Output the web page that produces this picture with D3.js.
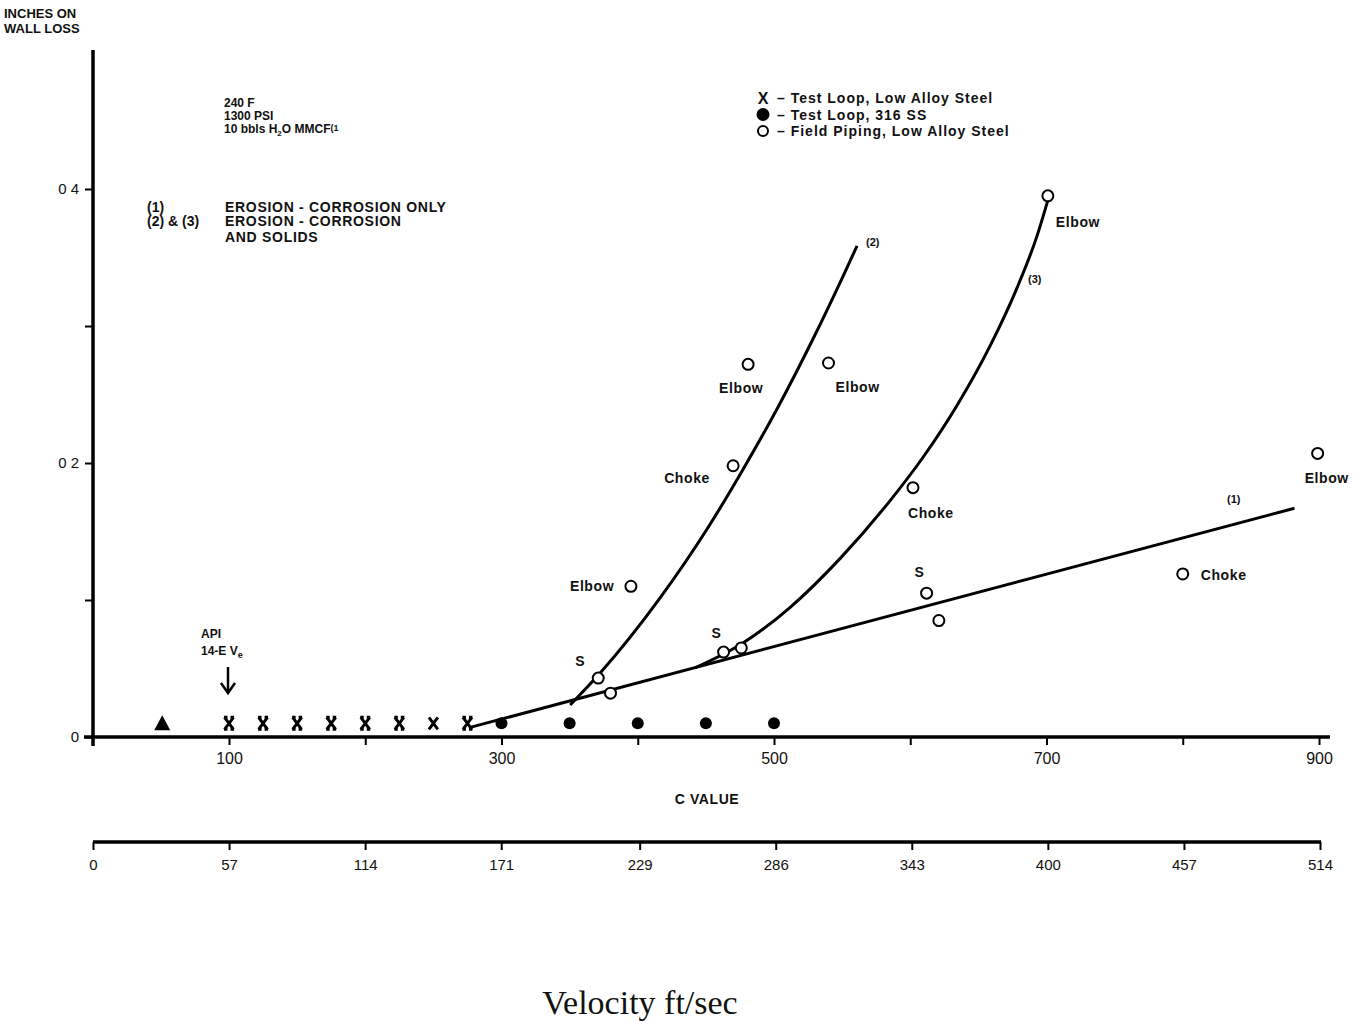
<!DOCTYPE html>
<html>
<head>
<meta charset="utf-8">
<script src="https://cdn.jsdelivr.net/npm/d3@7"></script>
<style>
  body { margin: 0; background: #fff; }
  svg { display: block; font-family: "Liberation Sans", Arial, sans-serif; }
  .lbl { font-weight: bold; fill: #111; }
</style>
</head>
<body>
<div id="chart"></div>
<script>
// --- values ---
// C value axis (top) and velocity axis (bottom)
var cTicks = [100, 200, 300, 400, 500, 600, 700, 800, 900];
var cTickLabels = ["100", "", "300", "", "500", "", "700", "", "900"];
var velTicks = [0, 57, 114, 171, 229, 286, 343, 400, 457, 514];
var lossTicks = [0, 0.1, 0.2, 0.3, 0.4];
var lossTickLabels = ["0", "", "0 2", "", "0 4"];

// X - Test Loop, Low Alloy Steel
var loopC = [100, 125, 150, 175, 200, 225, 250, 275];
var loopLoss = [0.01, 0.01, 0.01, 0.01, 0.01, 0.01, 0.01, 0.01];
// filled dot - Test Loop, 316 SS
var ssC = [300, 350, 400, 450, 500];
var ssLoss = [0.01, 0.01, 0.01, 0.01, 0.01];
// triangle
var triC = [51];
var triLoss = [0.01];
// open circle - Field Piping, Low Alloy Steel
var fieldC = [395, 481, 540, 470, 701, 602, 899, 800, 612, 621, 371, 380, 463, 476];
var fieldLoss = [0.11, 0.272, 0.273, 0.198, 0.395, 0.182, 0.207, 0.119, 0.105, 0.085, 0.043, 0.032, 0.062, 0.065];
var fieldLabel = ["Elbow", "Elbow", "Elbow", "Choke", "Elbow", "Choke", "Elbow", "Choke", "S", "", "S", "", "S", ""];

// curves (1), (2), (3)
var curve1C = [277, 882];
var curve1Loss = [0.007, 0.167];
var curve2C = [350.4, 372.4, 416.4, 450.9, 476.6, 503, 528.6, 552.1, 560.9];
var curve2Loss = [0.0234, 0.0467, 0.1015, 0.1518, 0.1942, 0.2409, 0.2905, 0.3394, 0.3584];
var curve3C = [442, 477.2, 511.9, 548.6, 585.1, 609.4, 634.3, 658.5, 678.3, 693, 701.1];
var curve3Loss = [0.0504, 0.0686, 0.0947, 0.1304, 0.1724, 0.2042, 0.242, 0.2853, 0.3277, 0.3656, 0.3921];

// label offsets (px) for the field notes, same order as fieldLabel
var labelOffsets = [[-61, 5], [-29, 29], [7, 29], [-69, 17], [8, 31], [-5, 30], [-13, 30], [18, 6], [-12, -16], [0, 0], [-23, -12], [0, 0], [-12, -14], [0, 0]];

var W = 1365, H = 1021;

var svg = d3.select('#chart').append('svg')
    .attr('width', W).attr('height', H)
    .style('background', '#fff');

var x = d3.scaleLinear().domain([0, 900]).range([92.75, 1319]);
var y = d3.scaleLinear().domain([0, 0.5]).range([737, 52]);
var xv = d3.scaleLinear().domain([0, 514]).range([93, 1320]);

// y axis title
svg.append('text').attr('class', 'lbl').attr('x', 4).attr('y', 18)
    .style('font-size', '13px').text('INCHES ON');
svg.append('text').attr('class', 'lbl').attr('x', 4).attr('y', 33)
    .style('font-size', '13px').text('WALL LOSS');

// y axis
var yAxis = d3.axisLeft(y).tickValues(lossTicks)
    .tickFormat(function (d, i) { return lossTickLabels[i]; })
    .tickSize(8).tickPadding(6);
var gy = svg.append('g').attr('transform', 'translate(93,0)').call(yAxis);
gy.select('.domain').remove();
gy.selectAll('.tick line').attr('stroke', '#000').attr('stroke-width', 2);
gy.selectAll('.tick text').style('font-size', '15px').attr('fill', '#111');
svg.append('line').attr('x1', 93).attr('x2', 93).attr('y1', 50).attr('y2', 746)
    .attr('stroke', '#000').attr('stroke-width', 3.5);

// top x axis (C value)
var xAxis = d3.axisBottom(x).tickValues(cTicks)
    .tickFormat(function (d, i) { return cTickLabels[i]; })
    .tickSize(8).tickPadding(8);
var gx = svg.append('g').attr('transform', 'translate(0,737)').call(xAxis);
gx.select('.domain').remove();
gx.selectAll('.tick line').attr('stroke', '#000').attr('stroke-width', 2);
gx.selectAll('.tick text').style('font-size', '16px').attr('fill', '#111');
svg.append('line').attr('x1', 84).attr('x2', 1330).attr('y1', 737).attr('y2', 737)
    .attr('stroke', '#000').attr('stroke-width', 3.5);

svg.append('text').attr('class', 'lbl').attr('x', 707).attr('y', 804)
    .attr('text-anchor', 'middle').style('font-size', '14px')
    .style('letter-spacing', '0.6px').text('C VALUE');

// bottom velocity axis
var vAxis = d3.axisBottom(xv).tickValues(velTicks)
    .tickSize(8).tickPadding(9);
var gv = svg.append('g').attr('transform', 'translate(0,842)').call(vAxis);
gv.select('.domain').remove();
gv.selectAll('.tick line').attr('stroke', '#000').attr('stroke-width', 2);
gv.selectAll('.tick text').style('font-size', '15px').attr('fill', '#111');
svg.append('line').attr('x1', 93).attr('x2', 1321).attr('y1', 842).attr('y2', 842)
    .attr('stroke', '#000').attr('stroke-width', 3.5);

svg.append('text').attr('x', 640).attr('y', 1014).attr('text-anchor', 'middle')
    .style('font-family', '"Liberation Serif", "Times New Roman", serif')
    .style('font-size', '34px').attr('fill', '#111').text('Velocity ft/sec');

// condition notes
var notes = svg.append('g').attr('class', 'lbl').style('font-size', '12px');
notes.append('text').attr('x', 224).attr('y', 107).text('240 F');
notes.append('text').attr('x', 224).attr('y', 120).text('1300 PSI');
var t3 = notes.append('text').attr('x', 224).attr('y', 133);
t3.append('tspan').text('10 bbls H');
t3.append('tspan').attr('dy', 3).style('font-size', '8px').text('2');
t3.append('tspan').attr('dy', -3).text('O MMCF');
t3.append('tspan').attr('dy', -2).style('font-size', '9px').text('(1');

var notes2 = svg.append('g').attr('class', 'lbl').style('font-size', '14px');
notes2.append('text').attr('x', 147).attr('y', 212).text('(1)');
notes2.append('text').attr('x', 147).attr('y', 226).text('(2) & (3)');
var erosion = notes2.append('g').style('letter-spacing', '0.7px');
erosion.append('text').attr('x', 225).attr('y', 212).text('EROSION - CORROSION ONLY');
erosion.append('text').attr('x', 225).attr('y', 226).text('EROSION - CORROSION');
erosion.append('text').attr('x', 225).attr('y', 242).text('AND SOLIDS');

// API note and arrow
svg.append('text').attr('class', 'lbl').attr('x', 201).attr('y', 638)
    .style('font-size', '12px').text('API');
var api = svg.append('text').attr('class', 'lbl').attr('x', 201).attr('y', 655)
    .style('font-size', '12px');
api.append('tspan').text('14-E V');
api.append('tspan').attr('dy', 3).style('font-size', '9px').text('e');
svg.append('line').attr('x1', 228).attr('x2', 228).attr('y1', 667).attr('y2', 692)
    .attr('stroke', '#000').attr('stroke-width', 2.5);
svg.append('path').attr('d', 'M221,683 L228,693 L235,683')
    .attr('fill', 'none').attr('stroke', '#000').attr('stroke-width', 2.5);

// legend
var lg = svg.append('g').attr('transform', 'translate(763,98)');
var legendItems = ['X', 'dot', 'ring'];
var legendText = ['\u2013 Test Loop, Low Alloy Steel', '\u2013 Test Loop, 316 SS', '\u2013 Field Piping, Low Alloy Steel'];
legendItems.forEach(function (k, i) {
    var gy0 = i * 16.5;
    if (k === 'X') {
        lg.append('text').attr('class', 'lbl').attr('x', 0).attr('y', gy0 + 6)
            .attr('text-anchor', 'middle').style('font-size', '16px').text('X');
    } else {
        lg.append('circle').attr('cx', 0).attr('cy', gy0)
            .attr('r', k === 'dot' ? 5.5 : 5)
            .attr('fill', k === 'dot' ? '#000' : '#fff')
            .attr('stroke', '#000').attr('stroke-width', 2);
    }
    lg.append('text').attr('class', 'lbl').attr('x', 14).attr('y', gy0 + 5)
        .style('font-size', '14px').style('letter-spacing', '1px').text(legendText[i]);
});

// curves
var line = d3.line().x(function (d) { return x(d[0]); }).y(function (d) { return y(d[1]); });
var smooth = d3.line().curve(d3.curveMonotoneX).x(function (d) { return x(d[0]); }).y(function (d) { return y(d[1]); });
function pairs(a, b) { return a.map(function (v, i) { return [v, b[i]]; }); }

svg.append('path').attr('d', line(pairs(curve1C, curve1Loss)))
    .attr('fill', 'none').attr('stroke', '#000').attr('stroke-width', 3);
svg.append('path').attr('d', smooth(pairs(curve2C, curve2Loss)))
    .attr('fill', 'none').attr('stroke', '#000').attr('stroke-width', 3);
svg.append('path').attr('d', smooth(pairs(curve3C, curve3Loss)))
    .attr('fill', 'none').attr('stroke', '#000').attr('stroke-width', 3);

var curveTags = svg.append('g').attr('class', 'lbl').style('font-size', '11px');
curveTags.append('text').attr('x', 866).attr('y', 246).text('(2)');
curveTags.append('text').attr('x', 1028).attr('y', 283).text('(3)');
curveTags.append('text').attr('x', 1227).attr('y', 503).text('(1)');

// triangle
svg.selectAll('.tri').data(pairs(triC, triLoss)).enter().append('path')
    .attr('class', 'tri')
    .attr('transform', function (d) { return 'translate(' + x(d[0]) + ',' + y(d[1]) + ')'; })
    .attr('d', 'M0,-8 L8,7 L-8,7 Z').attr('fill', '#000');

// X markers
svg.selectAll('.xm').data(pairs(loopC, loopLoss)).enter().append('path')
    .attr('class', 'xm')
    .attr('transform', function (d) { return 'translate(' + x(d[0]) + ',' + y(d[1]) + ')'; })
    .attr('d', function (d) {
        var p = 'M-4.5,-6 L4.5,6 M4.5,-6 L-4.5,6';
        if (d[0] !== 250) p += ' M-5,-6 L-1.5,-6 M1.5,-6 L5,-6 M-5,6 L-1.5,6 M1.5,6 L5,6';
        return p;
    })
    .attr('fill', 'none').attr('stroke', '#000').attr('stroke-width', 3);

// filled dots
svg.selectAll('.ss').data(pairs(ssC, ssLoss)).enter().append('circle')
    .attr('class', 'ss')
    .attr('cx', function (d) { return x(d[0]); })
    .attr('cy', function (d) { return y(d[1]); })
    .attr('r', 6).attr('fill', '#000');

// open circles
svg.selectAll('.fp').data(pairs(fieldC, fieldLoss)).enter().append('circle')
    .attr('class', 'fp')
    .attr('cx', function (d) { return x(d[0]); })
    .attr('cy', function (d) { return y(d[1]); })
    .attr('r', 5.5).attr('fill', '#fff')
    .attr('stroke', '#000').attr('stroke-width', 2);

svg.selectAll('.fpl').data(fieldLabel).enter().append('text')
    .attr('class', 'lbl fpl')
    .attr('x', function (d, i) { return x(fieldC[i]) + labelOffsets[i][0]; })
    .attr('y', function (d, i) { return y(fieldLoss[i]) + labelOffsets[i][1]; })
    .style('font-size', '14px').style('letter-spacing', '0.6px')
    .text(function (d) { return d; });
</script>
</body>
</html>
